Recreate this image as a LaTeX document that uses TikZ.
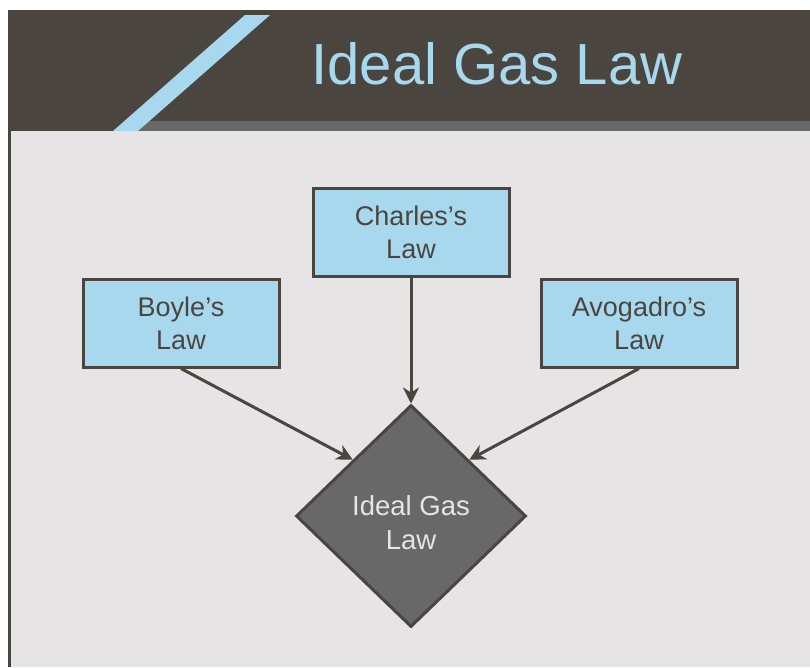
\documentclass[tikz,border=0pt]{standalone}
\usepackage{fontspec}
\setmainfont{Liberation Sans}
\usetikzlibrary{shapes.geometric,arrows.meta}
\definecolor{hdark}{HTML}{4B4540}
\definecolor{hgrey}{HTML}{686868}
\definecolor{bodybg}{HTML}{E6E4E4}
\definecolor{lblue}{HTML}{A8D8EE}
\definecolor{dfill}{HTML}{686868}
\tikzset{
  lawbox/.style={draw=hdark,line width=3pt,fill=lblue,minimum width=196pt,minimum height=88pt,inner sep=0pt,align=center,text=hdark,font=\fontsize{27}{33}\selectfont},
  goal/.style={diamond,draw=hdark,line width=3pt,fill=dfill,minimum width=230pt,minimum height=222pt,inner sep=0pt},
  goaltext/.style={align=center,text=bodybg,inner sep=0pt,font=\fontsize{27.5}{34}\selectfont},
  arr/.style={draw=hdark,line width=3pt,-{Stealth[length=16pt,width=16pt,inset=5pt]}}
}
\begin{document}
\begin{tikzpicture}[x=1pt,y=-1pt]
\useasboundingbox (0,0) rectangle (810,667);
\fill[white] (0,0) rectangle (810,667);
% body
\fill[bodybg] (8,131) rectangle (810,667);
\fill[hdark] (8,131) rectangle (10.5,667);
% header
\fill[hdark] (8,10) rectangle (810,131);
\fill[hgrey] (138,121) rectangle (810,131);
\fill[lblue] (245,15) -- (270,15) -- (138,131) -- (113,131) -- cycle;
\node[text=lblue,font=\fontsize{58}{60}\selectfont,anchor=base] (title) at (497,84) {Ideal Gas Law};
% nodes
\node[lawbox] (charles) at (411,232.5) {Charles’s\\Law};
\node[lawbox] (boyle) at (181,323) {Boyle’s\\Law};
\node[lawbox] (avogadro) at (639,323) {Avogadro’s\\Law};
\node[goal] (ideal) at (411,516) {};
\node[goaltext] (idealtext) at ([yshift=-7pt]ideal.center) {Ideal Gas\\Law};
% connectors
\draw[arr] (charles.south) -- (ideal.north);
\draw[arr] (boyle.south) -- (ideal.north west);
\draw[arr] (avogadro.south) -- (ideal.north east);
\end{tikzpicture}
\end{document}
